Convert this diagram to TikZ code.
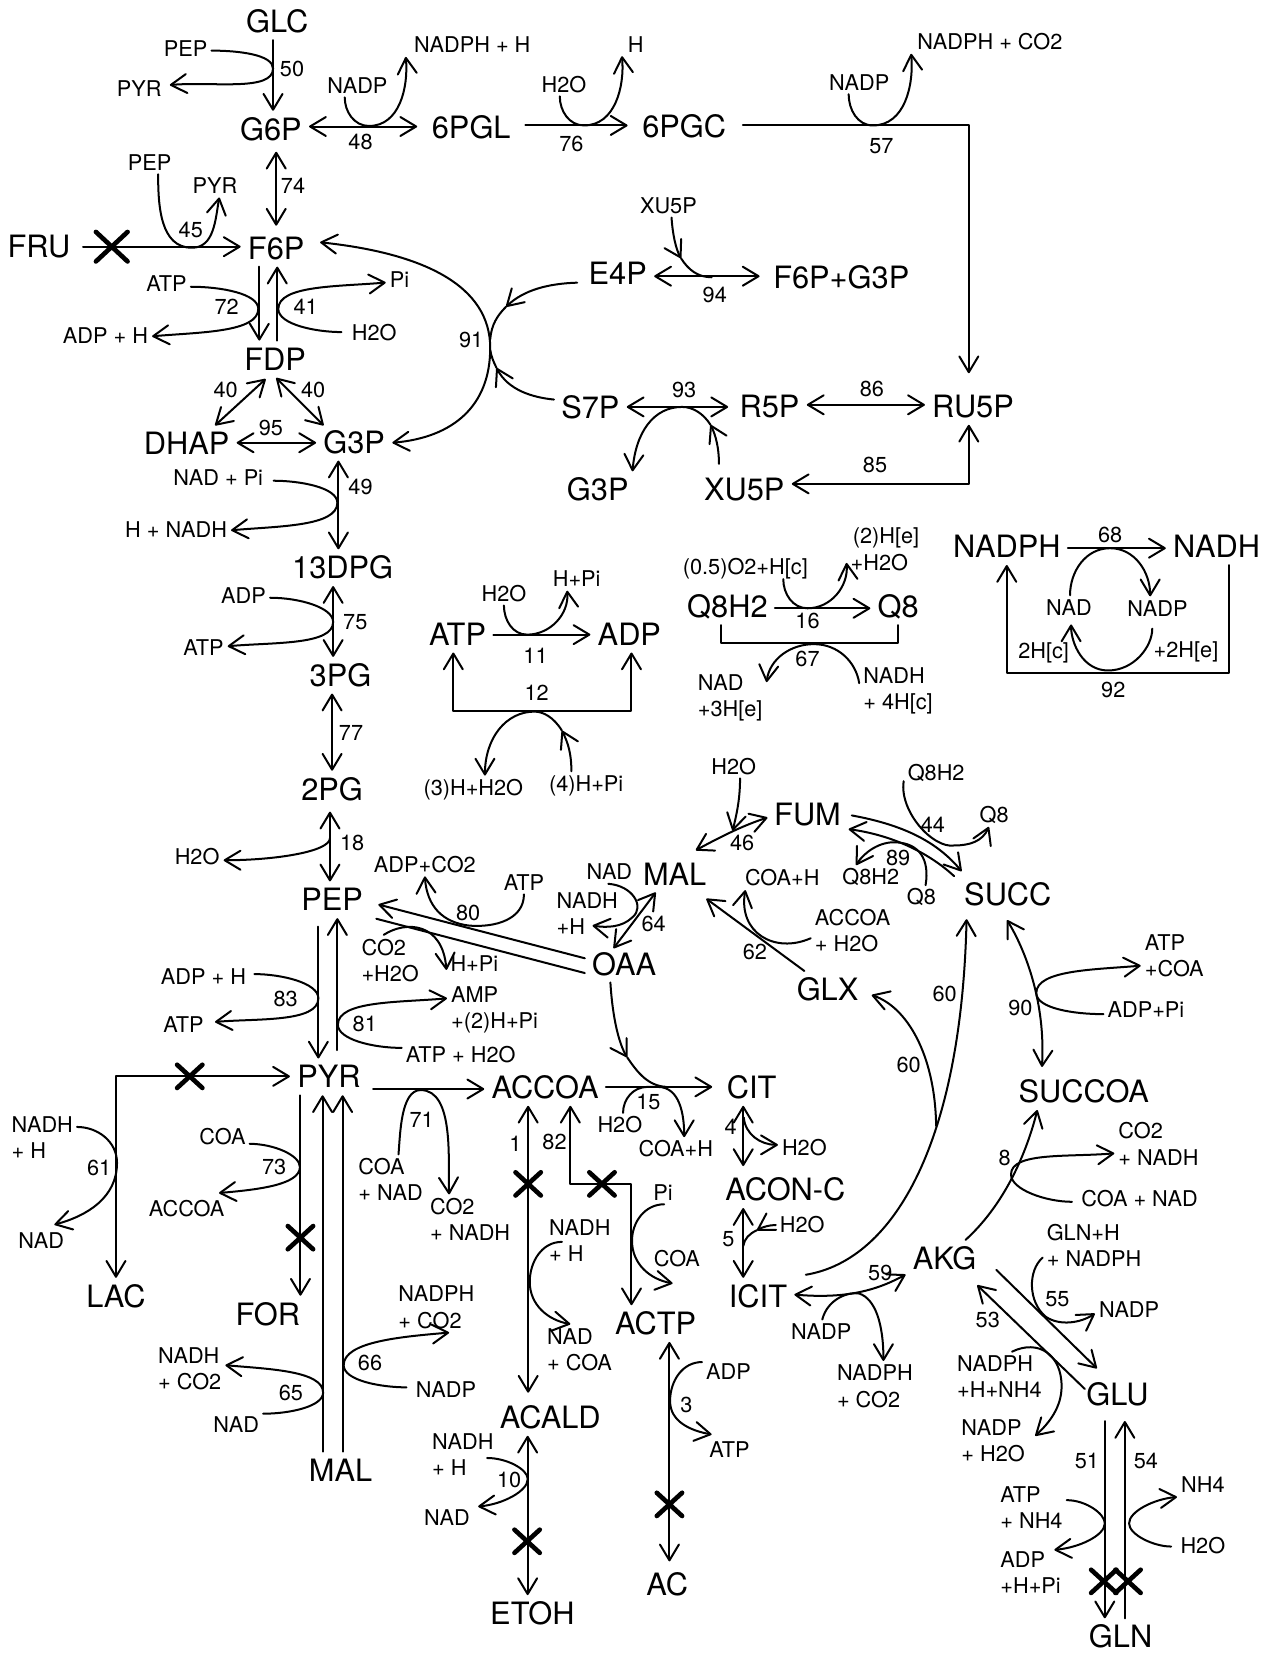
\documentclass[tikz,border=0pt]{standalone}
\usepackage{fontspec}
\setmainfont{TeX Gyre Heros}
\usetikzlibrary{arrows.meta,calc}
\newcommand\mbigfont{\fontsize{14.6}{16}\selectfont}
\newcommand\msmfont{\fontsize{10.3}{12.4}\selectfont}
\newcommand\crossmark[4]{\draw[xm] (#1,#2) +(-#3,-#4) -- +(#3,#4) +(-#3,#4) -- +(#3,-#4);}
\tikzset{
  big/.style={font=\mbigfont,inner sep=3pt,text height=10.5pt,text depth=0pt,yshift=-.25pt},
  sm/.style={font=\msmfont,inner sep=1.5pt,text height=7.4pt,text depth=0pt},
  ml/.style={font=\msmfont,inner sep=1.5pt,anchor=west,align=left,xshift=-1.5pt},
  xm/.style={line width=2.2pt,line cap=round},
  ta/.style={out looseness=1.1,in looseness=.55},
  tb/.style={out looseness=.55,in looseness=1.1},
}
\begin{document}
\begin{tikzpicture}[x=0.5pt,y=-0.5pt,line width=.95pt,line cap=round,line join=round,
  >={Straight Barb[length=7.5pt,width=9pt,round]}]
\useasboundingbox (0,0) rectangle (1204,1568);
% --- metabolites
\node[big] (GLC) at (263,20) {GLC};
\node[big] (G6P) at (257,122) {G6P};
\node[big] (6PGL) at (447,120) {6PGL};
\node[big] (6PGC) at (649,119) {6PGC};
\node[big] (F6P) at (262,235) {F6P};
\node[big] (FRU) at (37,233) {FRU};
\node[big] (FDP) at (261,340) {FDP};
\node[big] (DHAP) at (177,420) {DHAP};
\node[big] (G3P) at (336,419) {G3P};
\node[big] (E4P) at (586,259) {E4P};
\node[big] (F6PG3P) at (798,263) {F6P+G3P};
\node[big] (S7P) at (560,386) {S7P};
\node[big] (R5P) at (730,385) {R5P};
\node[big] (RU5P) at (923,385) {RU5P};
\node[big] (G3Pb) at (567,464) {G3P};
\node[big] (XU5Pb) at (706,464) {XU5P};
\node[big] (13DPG) at (325,538) {13DPG};
\node[big] (3PG) at (323,640) {3PG};
\node[big] (2PG) at (315,748) {2PG};
\node[big] (PEP) at (315,853) {PEP};
\node[big] (ATP) at (434,601) {ATP};
\node[big] (ADP) at (597,601) {ADP};
\node[big] (Q8H2) at (690,575) {Q8H2};
\node[big] (Q8) at (852,575) {Q8};
\node[big] (NADPH) at (955,518) {NADPH};
\node[big] (NADH) at (1154,518) {NADH};
\node[big] (MAL) at (640,829) {MAL};
\node[big] (FUM) at (766,772) {FUM};
\node[big] (SUCC) at (956,848) {SUCC};
\node[big] (OAA) at (592,914) {OAA};
\node[big] (GLX) at (785,938) {GLX};
\node[big] (PYR) at (312,1021) {PYR};
\node[big] (ACCOA) at (517,1031) {ACCOA};
\node[big] (CIT) at (713,1031) {CIT};
\node[big] (ACON) at (745,1128) {ACON-C};
\node[big] (ICIT) at (719,1229) {ICIT};
\node[big] (AKG) at (896,1193) {AKG};
\node[big] (SUCCOA) at (1028,1035) {SUCCOA};
\node[big] (LAC) at (110,1229) {LAC};
\node[big] (FOR) at (254,1246) {FOR};
\node[big] (ACTP) at (622,1255) {ACTP};
\node[big] (ACALD) at (522,1344) {ACALD};
\node[big] (MALb) at (323,1394) {MAL};
\node[big] (GLU) at (1060,1322) {GLU};
\node[big] (ETOH) at (505,1530) {ETOH};
\node[big] (AC) at (633,1502) {AC};
\node[big] (GLN) at (1063,1552) {GLN};
% --- cofactors, single line
\node[sm] (pepA) at (176,46) {PEP};
\node[sm] (pyrA) at (132,84) {PYR};
\node[sm] (nadpA) at (339,81) {NADP};
\node[sm] (nadphH) at (448,42) {NADPH + H};
\node[sm] (h2oA) at (535,80) {H2O};
\node[sm] (hA) at (603,42) {H};
\node[sm] (nadpB) at (815,78) {NADP};
\node[sm] (nadphCO) at (939,40) {NADPH + CO2};
\node[sm] (pepB) at (142,154) {PEP};
\node[sm] (pyrB) at (204,176) {PYR};
\node[sm] (xuA) at (634,195) {XU5P};
\node[sm] (atpA) at (158,269) {ATP};
\node[sm] (adpH) at (100,318) {ADP + H};
\node[sm] (piA) at (379,265) {Pi};
\node[sm] (h2oB) at (355,316) {H2O};
\node[sm] (ndpi) at (207,453) {NAD + Pi};
\node[sm] (hnadh) at (167,502) {H + NADH};
\node[sm] (adpB) at (231,565) {ADP};
\node[sm] (atpB0) at (193,614) {ATP};
\node[sm] (h2oH) at (478,563) {H2O};
\node[sm] (hpiB) at (547,549) {H+Pi};
\node[sm] (hH2O) at (449,747) {(3)H+H2O};
\node[sm] (hpiC) at (556,743) {(4)H+Pi};
\node[sm] (h2oC) at (187,813) {H2O};
\node[sm] (o2) at (707,538) {(0.5)O2+H[c]};
\node[sm] (nadH) at (1014,576) {NAD};
\node[sm] (nadpH2) at (1098,577) {NADP};
\node[sm] (twoHc) at (990,617) {2H[c]};
\node[sm] (twoHe) at (1125,616) {+2H[e]};
\node[sm] (h2oG) at (696,727) {H2O};
\node[sm] (q8h2A) at (888,733) {Q8H2};
\node[sm] (q8A) at (943,773) {Q8};
\node[sm] (q8h2B) at (826,832) {Q8H2};
\node[sm] (q8B) at (874,851) {Q8};
\node[sm] (coaH2) at (742,833) {COA+H};
\node[sm] (nadG) at (578,827) {NAD};
\node[sm] (adpCO) at (403,820) {ADP+CO2};
\node[sm] (atpB) at (497,837) {ATP};
\node[sm] (hpi) at (450,914) {H+Pi};
\node[sm] (adpH2) at (193,926) {ADP + H};
\node[sm] (atpC) at (174,972) {ATP};
\node[sm] (atpH2O) at (437,1000) {ATP + H2O};
\node[sm] (adpPi) at (1087,958) {ADP+Pi};
\node[sm] (h2oD) at (588,1067) {H2O};
\node[sm] (coaH) at (641,1090) {COA+H};
\node[sm] (h2oE) at (763,1089) {H2O};
\node[sm] (h2oF) at (761,1162) {H2O};
\node[sm] (piB) at (629,1131) {Pi};
\node[sm] (coaC) at (642,1194) {COA};
\node[sm] (nadA) at (39,1177) {NAD};
\node[sm] (coaA) at (211,1078) {COA};
\node[sm] (accoaS) at (177,1147) {ACCOA};
\node[sm] (nadpC) at (423,1318) {NADP};
\node[sm] (nadB) at (224,1351) {NAD};
\node[sm] (nadF) at (424,1440) {NAD};
\node[sm] (adpC) at (691,1301) {ADP};
\node[sm] (atpD) at (692,1375) {ATP};
\node[sm] (coaN) at (1081,1137) {COA + NAD};
\node[sm] (nadpG) at (1071,1242) {NADP};
\node[sm] (nadpD) at (779,1263) {NADP};
\node[sm] (nh4) at (1141,1408) {NH4};
\node[sm] (h2oN) at (1141,1466) {H2O};
% --- cofactors, two lines
\node[ml] (h2e) at (806,521) {\hspace*{1pt}(2)H[e]\\+H2O};
\node[ml] (nadK) at (661,662) {NAD\\+3H[e]};
\node[ml] (nadhK) at (818,655) {NADH\\+ 4H[c]};
\node[ml] (accoaH) at (772,883) {ACCOA\\+ H2O};
\node[ml] (nadhG) at (527,867) {NADH\\+H};
\node[ml] (co2A) at (342,911) {CO2\\+H2O};
\node[ml] (amp) at (427,958) {AMP\\+(2)H+Pi};
\node[ml] (atpCOA) at (1085,907) {ATP\\+COA};
\node[ml] (coaB) at (339,1119) {COA\\+ NAD};
\node[ml] (co2B) at (407,1157) {CO2\\+ NADH};
\node[ml] (nadhD) at (520,1177) {NADH\\+ H};
\node[ml] (nadE) at (518,1280) {NAD\\+ COA};
\node[ml] (nadhA) at (10,1079) {NADH\\ + H};
\node[ml] (nadphD) at (377,1240) {NADPH\\+ CO2};
\node[ml] (nadhC) at (149,1298) {NADH\\+ CO2};
\node[ml] (nadhE) at (409,1380) {NADH\\+ H};
\node[ml] (co2N) at (1060,1085) {CO2\\+ NADH};
\node[ml] (glnH) at (992,1181) {GLN+H\\+ NADPH};
\node[ml] (nadphF) at (793,1315) {NADPH\\+ CO2};
\node[ml] (nadphG) at (907,1306) {NADPH\\+H+NH4};
\node[ml] (nadpH) at (911,1367) {NADP\\+ H2O};
\node[ml] (atpN) at (948,1430) {ATP\\+ NH4};
\node[ml] (adpN) at (948,1492) {ADP\\+H+Pi};
% --- reaction numbers
\foreach \nm/\px/\py/\tx in {r50/277/65/50,r48/342/134/48,r76/542/136/76,r57/836/138/57,r74/278/176/74,r45/181/218/45,r94/678/280/94,r72/215/291/72,r41/290/291/41,r91/447/322/91,r40a/214/370/40,r40b/297/370/40,r95/257/406/95,r93/649/370/93,r86/827/369/86,r85/830/441/85,r49/342/462/49,r75/337/590/75,r11/508/622/11,r12/509/657/12,r77/333/695/77,r18/334/799/18,r16/766/589/16,r67/766/625/67,r68/1053/507/68,r92/1056/654/92,r44/885/782/44,r46/704/799/46,r89/852/814/89,r62/716/903/62,r64/620/876/64,r80/444/866/80,r83/271/947/83,r81/346/971/81,r90/968/956/90,r60a/896/943/60,r60b/862/1010/60,r71/400/1062/71,r15/615/1045/15,r4/693/1069/4,r5/691/1175/5,r1/489/1085/1,r82/526/1083/82,r61/94/1108/61,r73/260/1107/73,r66/351/1293/66,r65/276/1321/65,r10/483/1404/10,r3/651/1332/3,r8/953/1098/8,r55/1003/1232/55,r53/937/1252/53,r59/835/1207/59,r51/1031/1386/51,r54/1087/1386/54}
  {\node[sm] (\nm) at (\px,\py) {\tx};}
% --- glycolysis, upper
\draw[->] (GLC.south -| 259,0) -- (G6P.north -| 259,0);
\draw[->,shorten >=2pt] (pepA.east |- 0,48) to[out=0,in=90,ta] (259,65) to[out=-90,in=5,tb] (pyrA.east |- 0,81);
\draw[<->,shorten >=3.5pt] (G6P.east |- 0,120) -- (6PGL.west |- 0,120);
\draw[->] (nadpA.south -| 327,0) to[out=-90,in=180] (350,119.5) to[out=0,in=-85] ([shift={(-4,12)}]nadphH.west);
\draw[->,shorten <=3.5pt,shorten >=3.5pt] (6PGL.east |- 0,119) -- (6PGC.west |- 0,119);
\draw[->] (h2oA.south -| 531,0) to[out=-90,in=180] (554,119) to[out=0,in=-85] (hA.south -| 590,0);
\draw[->,shorten <=4.5pt,shorten >=7pt] (6PGC.east |- 0,119) -- (919,119) -- (RU5P.north -| 919,0);
\draw[->] (nadpB.south -| 805,0) to[out=-90,in=180] (828,119) to[out=0,in=-85] ([shift={(-2,11)}]nadphCO.west);
\draw[<->,shorten <=2pt,shorten >=2pt] (G6P.south -| 262,0) -- (F6P.north -| 262,0);
\draw[->,shorten <=2.5pt] (FRU.east |- 0,234) -- (F6P.west |- 0,234);
\crossmark{106}{234}{15}{14}
\draw[->] (pepB.south -| 150,0) to[out=-90,in=180] (182,235) to[out=0,in=-100] (pyrB.south -| 208,0);
\draw[->] (F6P.south -| 246,0) -- (FDP.north -| 246,0);
\draw[->] (FDP.north -| 263,0) -- (F6P.south -| 263,0);
\draw[->] (atpA.east |- 0,272) to[out=0,in=90,ta] (245,293) to[out=-90,in=5,tb] (adpH.east |- 0,319);
\draw[->,shorten <=3pt] (h2oB.west |- 0,315) to[out=180,in=-90,ta] (264,293) to[out=90,in=185,tb] (piA.west |- 0,268);
\draw[<->] ($(FDP)+(-9,19)$) -- ($(DHAP)+(27,-17)$);
\draw[<->] ($(FDP)+(1,18)$) -- ($(G3P)+(-29,-16)$);
\draw[<->] (DHAP.east |- 0,420) -- (G3P.west |- 0,420);
\draw[<->] (G3P.south -| 321,0) -- (13DPG.north -| 321,0);
\draw[->,shorten <=3pt] (ndpi.east |- 0,456) to[out=0,in=90,ta] (320,477) to[out=-90,in=5,tb] (hnadh.east |- 0,503);
% --- pentose phosphate
\draw[<->,shorten <=4pt] (F6P.east |- 0,229) .. controls (400,240) and (465,270) .. (465,330) .. controls (465,385) and (430,415) .. (G3P.east |- 0,420);
\coordinate (e4ptip) at (480,291);
\coordinate (e4pend) at (465,322);
\draw[->,shorten <=2pt] (E4P.west |- 0,268) .. controls (520,269) and (497,275) .. (e4ptip);
\draw (e4ptip) .. controls (472,299) and (466,308) .. (e4pend);
\coordinate (s7ptip) at (471,349);
\coordinate (s7pend) at (465,332);
\draw[->] (S7P.west |- 0,379) .. controls (505,377) and (482,370) .. (s7ptip);
\draw (s7ptip) .. controls (468,343) and (466,338) .. (s7pend);
\draw[<->,shorten >=3pt] (E4P.east |- 0,262) -- (F6PG3P.west |- 0,262);
\coordinate (xutip) at (646,245);
\coordinate (xuend) at (675,263);
\draw[->] (xuA.south -| 637,0) .. controls (638,222) and (641,236) .. (xutip);
\draw (xutip) .. controls (653,256) and (662,263) .. (xuend);
\draw[<->,shorten >=2pt] (S7P.east |- 0,386) -- (R5P.west |- 0,386);
\draw[<->] (R5P.east |- 0,384) -- (RU5P.west |- 0,384);
\coordinate (xubtip) at (674,403);
\draw[->,shorten <=3.5pt] (XU5Pb.north -| 682,0) .. controls (682,425) and (679,413) .. (xubtip);
\draw[->] (xubtip) .. controls (667,392) and (657,386) .. (647,386) .. controls (620,386) and (603,410) .. (G3Pb.north -| 600,0);
\draw[<->] (RU5P.south -| 919,0) -- (919,459) -- (XU5Pb.east |- 0,459);
% --- lower glycolysis
\draw[<->] (13DPG.south -| 316,0) -- (3PG.north -| 316,0);
\draw[->] (adpB.east |- 0,567) to[out=0,in=90,ta] (316,590) to[out=-90,in=5,tb] (atpB0.east |- 0,613);
\draw[<->] (3PG.south -| 315,0) -- (2PG.north -| 315,0);
\draw[<->,shorten <=2pt] (2PG.south -| 313,0) -- (PEP.north -| 313,0);
\coordinate (en18) at (313,795);
\draw[->] (en18) .. controls (313,808) and (260,816) .. (h2oC.east |- 0,816);
\draw[->,shorten <=4pt] (PEP.south -| 302,0) -- (PYR.north -| 302,0);
\draw[->,shorten <=4pt] (PYR.north -| 320,0) -- (PEP.south -| 320,0);
\draw[->,shorten <=2pt,shorten >=3.5pt] (adpH2.east |- 0,924) to[out=0,in=90,ta] (302,947) to[out=-90,in=5,tb] (atpC.east |- 0,970);
\draw[->] (atpH2O.west |- 0,994) to[out=180,in=-90,ta] (320.5,972) to[out=90,in=185,tb] (amp.west |- 0,947);
% --- PEP / OAA
\draw[->,shorten >=4pt] (OAA.west |- 0,909) -- (PEP.east |- 0,856);
\draw[shorten <=3pt] (PEP.east |- 0,870) -- (OAA.west |- 0,923);
\draw[->] (atpB.south -| 497,0) .. controls (497,872) and (470,880) .. (445,878) .. controls (420,875) and (405,860) .. (adpCO.south -| 403,0);
\draw[->] (co2A.north -| 364,0) .. controls (385,873) and (420,875) .. (hpi.west |- 0,920);
\draw[<->] ($(OAA)+(-10,-15)$) -- ($(MAL)+(-18,17)$);
\draw[->] (nadG.south -| 577,0) .. controls (600,840) and (612,860) .. (600,870) .. controls (590,880) and (575,880) .. ([shift={(-28,11)}]nadhG.east);
% --- ATP / ADP box
\draw[->] (ATP.east |- 0,602) -- (ADP.west |- 0,602);
\draw[->] (h2oH.south -| 478,0) to[out=-90,in=180] (500,602) to[out=0,in=-85] (hpiB.south -| 538,0);
\draw[<->] (ATP.south -| 430,0) -- (430,674) -- (599,674) -- (ADP.south -| 599,0);
\coordinate (hpitip) at (533,693);
\draw[->] (hpiC.north -| 542,0) .. controls (542,715) and (539,705) .. (hpitip);
\draw[->] (hpitip) .. controls (525,680) and (515,675) .. (507,675) .. controls (480,675) and (460,700) .. (hH2O.north -| 460,0);
% --- Q8 box
\draw[->] (Q8H2.east |- 0,577) -- (Q8.west |- 0,577);
\draw[->] (o2.south -| 743,0) to[out=-90,in=180] (766,577) to[out=0,in=-85] (h2e.west |- 0,534);
\draw (Q8H2.south -| 684,0) -- (684,610) -- (852,610) -- (Q8.south -| 852,0);
\draw[->] (nadhK.west |- 0,648) .. controls (812,628) and (795,611) .. (772,611) .. controls (750,611) and (730,625) .. (nadK.east |- 0,647);
% --- NADPH box
\draw[->] (NADPH.east |- 0,520) -- (NADH.west |- 0,520);
\draw[->] (nadH.north -| 1015,0) to[out=90,in=180] (1053,520) to[out=0,in=90] (nadpH2.north -| 1091,0);
\draw[->,shorten <=4pt,shorten >=2.5pt] (nadpH2.south -| 1093,0) to[out=-90,in=0] (1051,636) to[out=180,in=-90] (nadH.south -| 1016,0);
\draw[->] (NADH.south -| 1166,0) -- (1166,638) -- (955,638) -- (NADPH.south -| 955,0);
% --- PYR branches
\draw[<->] (PYR.west |- 0,1021) -- (110,1021) -- (LAC.north -| 110,0);
\crossmark{180}{1021}{12}{11}
\draw[->] (nadhA.east |- 0,1069) to[out=0,in=90] (111,1103) to[out=-90,in=15] ([shift={(-13,-4)}]nadA.north east);
\draw[->] (PYR.south -| 285,0) -- (FOR.north -| 285,0);
\crossmark{285}{1174}{12}{11}
\draw[->] (coaA.east |- 0,1085) to[out=0,in=90,ta] (284.5,1107) to[out=-90,in=5,tb] ([shift={(-9,-4)}]accoaS.north east);
\draw[->] (MALb.north -| 306,0) -- (PYR.south -| 306,0);
\draw[->] (MALb.north -| 325,0) -- (PYR.south -| 325,0);
\draw[->] (nadB.east |- 0,1341) to[out=0,in=-90,ta] (306.5,1321) to[out=90,in=-5,tb] (nadhC.east |- 0,1295);
\draw[->,shorten <=2.5pt] (nadpC.west |- 0,1316) to[out=180,in=-90,ta] (326,1295) to[out=90,in=185,tb] (nadphD.south -| 426,0);
\draw[->,shorten <=2.5pt] (PYR.east |- 0,1033) -- (ACCOA.west |- 0,1033);
\draw[->] (coaB.north -| 378,0) to[out=85,in=180,looseness=.75] (399,1034) to[out=0,in=92,looseness=.8] (co2B.north -| 426,0);
\draw[<->,shorten >=3pt] (ACCOA.south -| 501,0) -- (ACALD.north -| 501,0);
\crossmark{501}{1123}{12}{11}
\draw[<->] (ACCOA.south -| 541,0) -- (541,1123) -- (599,1123) -- (ACTP.north -| 599,0);
\crossmark{571}{1123}{12}{11}
\draw[->] ([shift={(16,1)}]nadhD.west) to[out=180,in=90] (502.5,1216) to[out=-90,in=170] (nadE.north -| 541,0);
\draw[->] (piB.south -| 630,0) to[out=180,in=90] (599.5,1177) to[out=-90,in=170] ([shift={(-4,12)}]coaC.south);
\draw[<->,shorten >=2pt] (ACTP.south -| 635,0) -- (AC.north -| 635,0);
\crossmark{635}{1427}{12}{11}
\draw[->] (adpC.west |- 0,1292) to[out=180,in=90] (635.6,1329) to[out=-90,in=170] ([shift={(6,-3)}]atpD.north west);
\draw[<->] (ACALD.south -| 500.5,0) -- (ETOH.north -| 500.5,0);
\crossmark{500}{1462}{12}{11}
\draw[->] ([shift={(-10,3)}]nadhE.east) to[out=0,in=90,ta] (500.6,1403) to[out=-90,in=5,tb] ([shift={(4,-11)}]nadF.east);
% --- TCA
\draw[->,shorten >=3.5pt] (ACCOA.east |- 0,1031) -- (CIT.west |- 0,1031);
\coordinate (oaatip) at (595,1003);
\coordinate (oaaend) at (632,1031);
\draw[->] (OAA.south -| 579,0) .. controls (581,965) and (587,990) .. (oaatip);
\draw (oaatip) .. controls (605,1018) and (615,1030) .. (oaaend);
\draw[->] (h2oD.north -| 591,0) to[out=90,in=180] (614,1031) -- (624,1031) to[out=0,in=90] (coaH.north -| 649,0);
\draw[<->,shorten >=2.5pt] (CIT.south -| 705,0) -- (ACON.north -| 705,0);
\coordinate (st4) at (705.5,1060);
\draw[->] (st4) to[out=-85,in=180] (h2oE.west |- 0,1086);
\draw[<->] (ACON.south -| 705,0) -- (ICIT.north -| 705,0);
\coordinate (h2oftip) at (718,1167);
\coordinate (h2ofend) at (705,1182);
\draw[->] (h2oF.west |- 0,1162) .. controls (730,1162) and (723,1164) .. (h2oftip);
\draw (h2oftip) .. controls (711,1170) and (706,1175) .. (h2ofend);
\draw[<->] (ICIT.east |- 0,1228) .. controls (800,1232) and (830,1225) .. (AKG.west |- 0,1209);
\draw[->] (nadpD.north -| 780,0) .. controls (785,1232) and (805,1225) .. (815,1227) .. controls (830,1232) and (838,1255) .. (nadphF.north -| 838,0);
\draw[->,shorten <=5.5pt,shorten >=3pt] (ICIT.east |- 0,1211) .. controls (850,1195) and (912,1080) .. (SUCC.south -| 917,0);
\coordinate (glxst) at (888,1068);
\draw[->,shorten >=3pt] (glxst) .. controls (887,1000) and (860,955) .. (GLX.east |- 0,942);
\draw[<->,shorten <=4pt,shorten >=3pt] (SUCC.south -| 951,0) .. controls (972,900) and (992,950) .. (SUCCOA.north -| 988,0);
\draw[->] (adpPi.west |- 0,962) to[out=180,in=-90,ta] (983,942) to[out=90,in=185,tb] (atpCOA.west |- 0,916);
\draw[->] (AKG.north -| 916,0) .. controls (950,1145) and (972,1100) .. (SUCCOA.south -| 984,0);
\draw[->,shorten <=2.5pt] (coaN.west |- 0,1140) to[out=180,in=-90,ta] (959,1114) to[out=90,in=185,tb] (co2N.west |- 0,1094);
\draw[->] ([shift={(49,11)}]AKG.center) -- ([shift={(-19.5,-24.5)}]GLU.center);
\draw[->] ([shift={(-31,-5)}]GLU.center) -- ([shift={(31,25.6)}]AKG.center);
\draw[->] (glnH.west |- 0,1193) .. controls (975,1205) and (975,1235) .. (992,1249) .. controls (1005,1258) and (1025,1255) .. (nadpG.west |- 0,1246);
\draw[->] (nadphG.north -| 960,0) .. controls (985,1270) and (1007,1285) .. (1007,1315) .. controls (1007,1335) and (995,1350) .. ([shift={(6,19)}]nadpH.north east);
\draw[->,shorten <=4pt] (GLU.south -| 1048,0) -- (GLN.north -| 1048,0);
\draw[->,shorten >=4pt] (GLN.north -| 1067,0) -- (GLU.south -| 1067,0);
\crossmark{1047}{1500}{12}{11}
\crossmark{1070}{1500}{12}{11}
\draw[->] (atpN.east |- 0,1423) to[out=0,in=90,ta] (1048,1445) to[out=-90,in=5,tb] ([shift={(-10,2)}]adpN.north east);
\draw[->,shorten <=2.5pt] (h2oN.west |- 0,1467) to[out=180,in=-90,ta] (1071,1445) to[out=90,in=185,tb] (nh4.west |- 0,1420);
% --- FUM / SUCC
\draw[<->] ([shift={(20,-23)}]MAL.center) .. controls (685,793) and (705,783) .. ([shift={(-38,3)}]FUM.center);
\coordinate (h2ogend) at (695,788);
\draw[->] (h2oG.south -| 702,0) .. controls (702,760) and (698,775) .. (h2ogend);
\draw[->,shorten >=3pt] ([shift={(42,1)}]FUM.center) .. controls (860,783) and (890,800) .. (SUCC.north -| 916,0);
\draw[->] (SUCC.north -| 905,0) .. controls (880,808) and (845,792) .. ([shift={(39,14)}]FUM.center);
\draw[->] (q8h2A.west |- 0,741) .. controls (853,770) and (885,805) .. (905,802) .. controls (920,802) and (932,798) .. (q8A.south -| 938,0);
\draw[->] (q8B.north -| 878,0) .. controls (882,815) and (872,800) .. (850,799) .. controls (835,798) and (820,808) .. (q8h2B.north -| 812,0);
\draw[->] (GLX.north -| 763,0) -- ([shift={(30,23)}]MAL.center);
\draw[->] (accoaH.west |- 0,890) .. controls (735,905) and (700,885) .. (coaH2.south -| 707,0);
\end{tikzpicture}
\end{document}
